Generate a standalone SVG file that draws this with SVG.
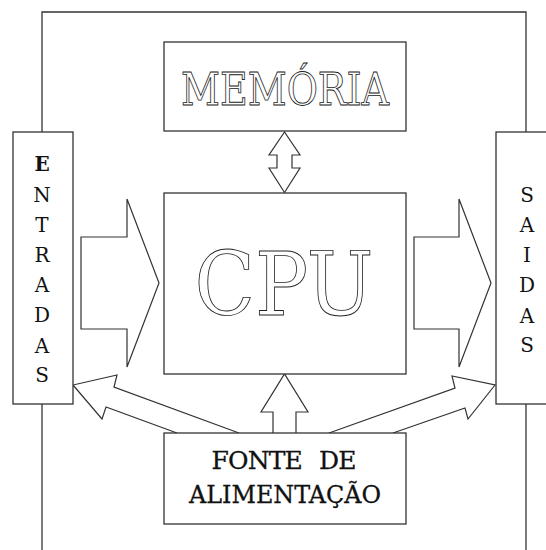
<svg xmlns="http://www.w3.org/2000/svg" width="546" height="550" viewBox="0 0 546 550">
<style>
.ln{fill:none;stroke:#333;stroke-width:1.3;stroke-linejoin:miter}
.box{fill:#fff;stroke:#333;stroke-width:1.3}
.arr{fill:#fff;stroke:#333;stroke-width:1.2;stroke-linejoin:miter}
.lt{font-family:'DejaVu Serif',serif;font-size:20px;fill:#111;text-anchor:middle}
.big{font-family:'DejaVu Serif',serif;fill:#fff;stroke:#222;stroke-width:0.9;text-anchor:middle}
.ft{font-family:'DejaVu Serif',serif;font-size:25px;fill:#111;text-anchor:middle;stroke:#111;stroke-width:0.3}
</style>
<rect width="546" height="550" fill="#fff"/>
<g id="connectors">
<polyline class="ln" points="42,132 42,12 526,12 526,132"/>
<line class="ln" x1="42" y1="404" x2="42" y2="550"/>
<line class="ln" x1="526" y1="404" x2="526" y2="550"/>
<polygon class="arr" points="284.5,132 269,155 277,155 277,168 269,168 284.5,192.5 300,168 292,168 292,155 300,155"/>
<polygon class="arr" points="81,237 127,237 127,199 159,283 127,367 127,329 81,329"/>
<polygon class="arr" points="414,237 459,237 459,199 491,283 459,367 459,329 414,329"/>
<polyline class="arr" points="273,433 273,412 261,412 284.5,374 308,412 296,412 296,433"/>
<polyline class="arr" points="239,433 114,387 117,375 73,385 102,419 106,407 177,433"/>
<polyline class="arr" points="329,433 455,388 452,376 495,385 468,419 465,408 393,433"/>
</g>
<g id="memoria">
<rect class="box" x="164" y="42" width="242" height="89"/>
<text class="big" x="285" y="105" font-size="45" textLength="208" lengthAdjust="spacingAndGlyphs">MEMÓRIA</text>
</g>
<g id="cpu">
<rect class="box" x="164" y="193" width="242" height="181"/>
<text class="big" x="284" y="315" font-size="88" textLength="179" lengthAdjust="spacingAndGlyphs">CPU</text>
</g>
<g id="entradas">
<rect class="box" x="13" y="132" width="60" height="272"/>
<text class="lt" font-weight="bold" x="42" y="171">E</text>
<text class="lt" x="42" y="202">N</text>
<text class="lt" x="42" y="232">T</text>
<text class="lt" x="42" y="262">R</text>
<text class="lt" x="42" y="292">A</text>
<text class="lt" x="42" y="322">D</text>
<text class="lt" x="42" y="353">A</text>
<text class="lt" x="42" y="382">S</text>
</g>
<g id="saidas">
<rect class="box" x="496" y="132" width="60" height="272"/>
<text class="lt" x="527" y="202">S</text>
<text class="lt" x="527" y="232">A</text>
<text class="lt" x="527" y="262">I</text>
<text class="lt" x="527" y="292">D</text>
<text class="lt" x="527" y="323">A</text>
<text class="lt" x="527" y="352">S</text>
</g>
<g id="fonte">
<rect class="box" x="164" y="433" width="242" height="91"/>
<text class="ft" x="284" y="469" textLength="145" word-spacing="10">FONTE DE</text>
<text class="ft" x="285" y="503" textLength="192" lengthAdjust="spacingAndGlyphs">ALIMENTAÇÃO</text>
</g>
</svg>
